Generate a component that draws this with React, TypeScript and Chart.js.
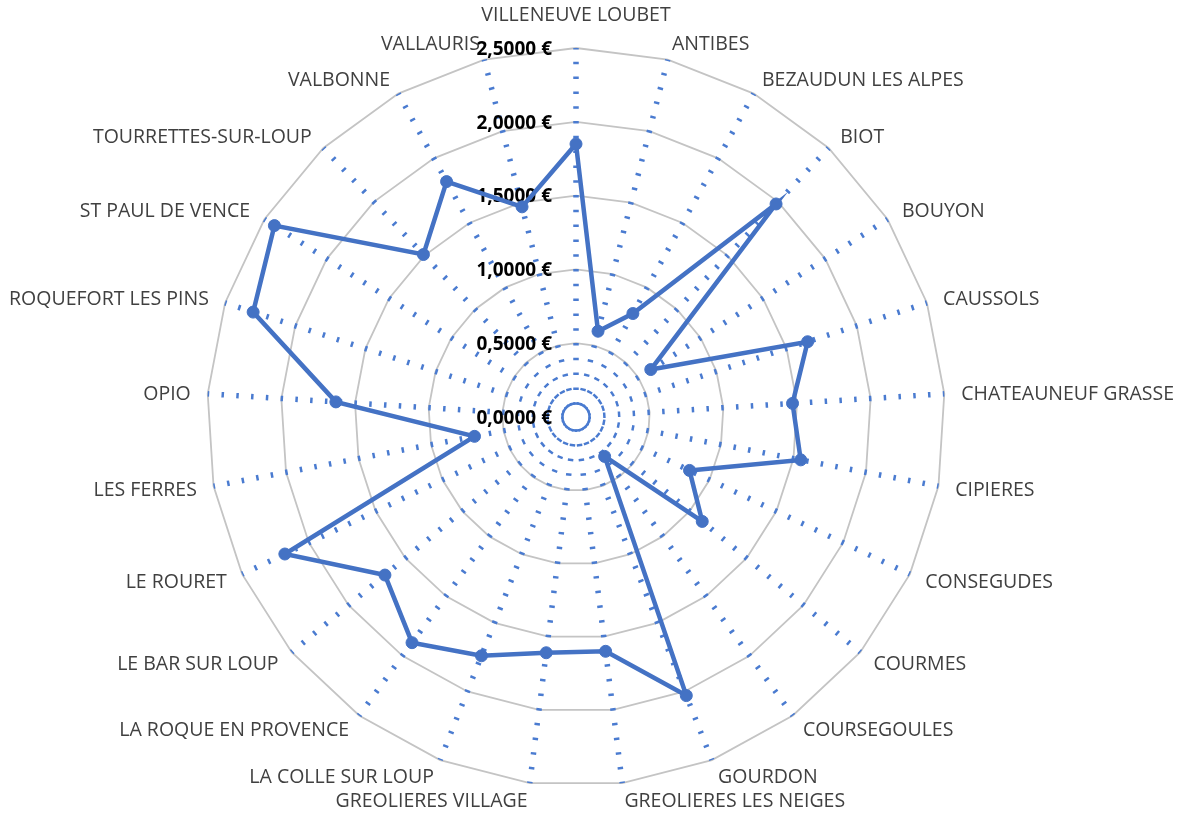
import React, { useEffect, useRef } from 'react';
import { Chart, registerables } from 'chart.js';

Chart.register(...registerables);

const categories = [
  'VILLENEUVE LOUBET',
  'ANTIBES',
  'BEZAUDUN LES ALPES',
  'BIOT',
  'BOUYON',
  'CAUSSOLS',
  'CHATEAUNEUF GRASSE',
  'CIPIERES',
  'CONSEGUDES',
  'COURMES',
  'COURSEGOULES',
  'GOURDON',
  'GREOLIERES LES NEIGES',
  'GREOLIERES VILLAGE',
  'LA COLLE SUR LOUP',
  'LA ROQUE EN PROVENCE',
  'LE BAR SUR LOUP',
  'LE ROURET',
  'LES FERRES',
  'OPIO',
  'ROQUEFORT LES PINS',
  'ST PAUL DE VENCE',
  'TOURRETTES-SUR-LOUP',
  'VALBONNE',
  'VALLAURIS',
];

const values = [
  1.85, 0.6, 0.8, 1.98, 0.6, 1.65, 1.47, 1.55, 0.85, 1.11, 0.33, 2.03, 1.6,
  1.61, 1.74, 1.89, 1.68, 2.18, 0.7, 1.63, 2.3, 2.42, 1.51, 1.82, 1.47,
];

const axisMin = 0;
const axisMax = 2.5;
const axisStep = 0.5;

const formatEuro = (v: number) => v.toFixed(4).replace('.', ',') + ' €';

// layout of the radial scale inside the 1185x814 canvas
const CENTER_X = 576;
const CENTER_Y = 417;
const RADIUS = 369;

const LABEL_SIZE = 19.5;
const TICK_SIZE = 19;

const geometryPlugin = {
  id: 'geometry',
  afterLayout(chart: any) {
    const s = chart.scales.r;
    s.xCenter = CENTER_X;
    s.yCenter = CENTER_Y;
    s.drawingArea = RADIUS;
  },
};

const labelsPlugin = {
  id: 'customLabels',
  beforeDatasetsDraw(chart: any) {
    const s = chart.scales.r;
    const ctx = chart.ctx as CanvasRenderingContext2D;
    const outer = s.getDistanceFromCenterForValue(s.max);
    ctx.save();
    // category labels
    ctx.font = `${LABEL_SIZE}px "Open Sans"`;
    ctx.fillStyle = '#404040';
    ctx.textBaseline = 'alphabetic';
    const capH = LABEL_SIZE * 0.714;
    categories.forEach((c, i) => {
      const p = s.getPointPosition(i, outer + 17);
      const a = s.getIndexAngle(i);
      const sn = Math.sin(a);
      let align: CanvasTextAlign = 'center';
      if (sn > 0.01) align = 'left';
      else if (sn < -0.01) align = 'right';
      ctx.textAlign = align;
      let y = p.y + capH / 2;
      if (align === 'center') y = p.y - 17 + capH / 2;
      ctx.fillText(c, p.x, y);
    });
    // value tick labels
    ctx.font = `bold ${TICK_SIZE}px "Open Sans"`;
    ctx.fillStyle = '#000000';
    ctx.textAlign = 'right';
    const tcap = TICK_SIZE * 0.714;
    s.ticks.forEach((t: any) => {
      const y = s.yCenter - s.getDistanceFromCenterForValue(t.value);
      ctx.fillText(formatEuro(t.value), s.xCenter - 24, y + tcap / 2);
    });
    ctx.restore();
  },
};

export default function App() {
  const canvasRef = useRef<HTMLCanvasElement | null>(null);

  useEffect(() => {
    document.body.style.margin = '0';
    const canvas = canvasRef.current;
    if (!canvas) return;
    const chart = new Chart(canvas, {
      type: 'radar',
      data: {
        labels: categories,
        datasets: [
          {
            label: 'Prix',
            data: values,
            borderColor: '#4472C4',
            backgroundColor: '#4472C4',
            borderWidth: 4.5,
            pointRadius: 6,
            pointBorderWidth: 1,
            pointBackgroundColor: '#4472C4',
            pointBorderColor: '#4472C4',
            fill: false,
            tension: 0,
          },
        ],
      },
      options: {
        responsive: false,
        animation: false,
        devicePixelRatio: 1,
        plugins: {
          legend: { display: false },
          tooltip: { enabled: false },
        },
        scales: {
          r: {
            min: axisMin,
            max: axisMax,
            beginAtZero: true,
            ticks: {
              stepSize: axisStep,
              display: false,
              callback: (v: any) => formatEuro(Number(v)),
            },
            pointLabels: { display: false },
            grid: {
              circular: false,
              color: '#C4C4C4',
              lineWidth: 1.8,
            },
            angleLines: {
              display: true,
              color: '#4A7BD0',
              lineWidth: 5.5,
              borderDash: [2.5, 12.3],
              borderDashOffset: 2.5,
            },
          },
        },
      } as any,
      plugins: [geometryPlugin, labelsPlugin],
    });
    return () => chart.destroy();
  }, []);

  return (
    <div style={{ position: 'absolute', left: 0, top: 0, width: 1185, height: 814, background: '#fff' }}>
      <canvas ref={canvasRef} width={1185} height={814} />
    </div>
  );
}
